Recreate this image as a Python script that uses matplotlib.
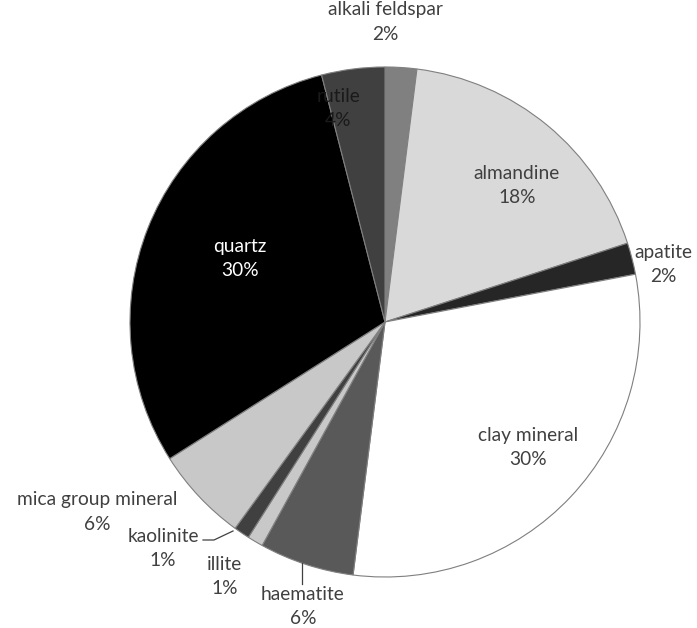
import matplotlib.pyplot as plt
import numpy as np

plt.rcParams['font.family'] = ['Lato', 'DejaVu Sans']

minerals = ['alkali feldspar', 'almandine', 'apatite', 'clay mineral', 'haematite',
            'illite', 'kaolinite', 'mica group mineral', 'quartz', 'rutile']
percent = [2, 18, 2, 30, 6, 1, 1, 6, 30, 4]
colors = ['#808080', '#d9d9d9', '#262626', '#ffffff', '#595959',
          '#c8c8c8', '#404040', '#c8c8c8', '#000000', '#404040']

# pixel layout: pie centre and radius
W, H = 697, 628
CX, CY, R = 385, 322, 255


def px(x, y):
    # pixel position -> data units (radius = 1)
    return (x - CX) / R, (CY - y) / R


fig = plt.figure(figsize=(W / 100, H / 100), dpi=100)
ax = fig.add_axes([0, 0, 1, 1])

ax.pie(percent, colors=colors, startangle=90, counterclock=False, radius=1,
       wedgeprops=dict(edgecolor='#7f7f7f', linewidth=0.8))

ax.set_xlim(-CX / R, (W - CX) / R)
ax.set_ylim((CY - H) / R, CY / R)
ax.set_aspect('equal', adjustable='datalim')
ax.axis('off')

# label positions (pixels) and text colours
label_pos = {
    'alkali feldspar': (385, 22),
    'almandine': (517, 185),
    'apatite': (663, 264),
    'clay mineral': (528, 447),
    'haematite': (303, 607),
    'illite': (225, 577),
    'kaolinite': (163, 548),
    'mica group mineral': (97, 512),
    'quartz': (240, 258),
    'rutile': (338, 108),
}
label_col = {'quartz': 'white', 'rutile': '#1a1a1a'}

for name, p in zip(minerals, percent):
    x, y = px(*label_pos[name])
    ax.text(x, y, f'{name}\n{p}%', ha='center', va='center', fontsize=13.8,
            color=label_col.get(name, '#404040'), linespacing=1.5)

# leader lines
for pts in ([(203, 540), (214, 540), (233, 531)], [(302, 563), (302, 584)]):
    xy = np.array([px(*q) for q in pts])
    ax.plot(xy[:, 0], xy[:, 1], color='#404040', lw=0.9)

fig.savefig('out.png', dpi=100, facecolor='white')
